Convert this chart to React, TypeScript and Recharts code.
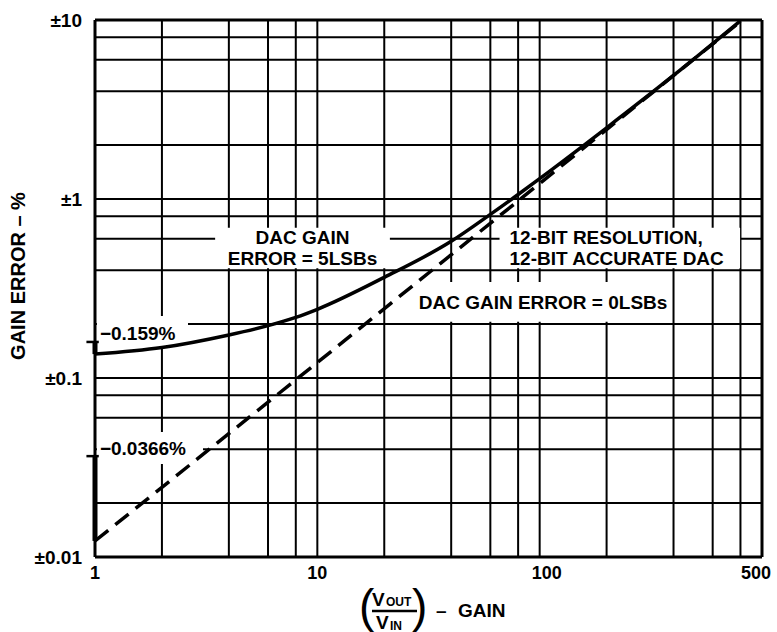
import React from 'react';
import { LineChart, Line, XAxis, YAxis, CartesianGrid, ReferenceLine, ReferenceArea } from 'recharts';

// grid values (log-log paper)
const gainTicks = [1, 2, 4, 6, 8, 10, 20, 40, 60, 80, 100, 200, 400, 600, 800, 1000];
const errorTicks = [0.01, 0.02, 0.04, 0.06, 0.08, 0.1, 0.2, 0.4, 0.6, 0.8, 1, 2, 4, 6, 8, 10];
const gainLabels: Record<string, string> = { '1': '1', '10': '10', '100': '100', '1000': '500' };
const errorLabels: Record<string, string> = { '0.01': '±0.01', '0.1': '±0.1', '1': '±1', '10': '±10' };

// DAC gain error = 5LSBs (solid)
const gain5 = [1, 2, 4, 6, 8, 10, 20, 40, 60, 80, 100, 200, 400, 800];
const error5 = [0.136, 0.148, 0.174, 0.196, 0.218, 0.242, 0.365, 0.58, 0.82, 1.06, 1.3, 2.5, 4.9, 9.9];

// DAC gain error = 0LSBs (dashed)
const gain0 = [1, 2, 10, 100, 800];
const error0 = [0.0123, 0.0245, 0.122, 1.22, 9.8];

// values marked on the left axis
const axisMarks = [0.159, 0.0366];

const solidData = gain5.map((g, i) => ({ g, v: error5[i] }));
const dashedData = gain0.map((g, i) => ({ g, v: error0[i] }));

const FONT = '"Liberation Sans", Arial, Helvetica, sans-serif';

const BoxText = ({ viewBox, lines, anchor = 'middle', dx = 0, dy = 0 }: any) => {
  const { x, y, width, height } = viewBox;
  const lh = 21;
  const tx = anchor === 'start' ? x + dx : x + width / 2 + dx;
  const y0 = y + height / 2 - ((lines.length - 1) * lh) / 2 + dy;
  return (
    <text fontFamily={FONT} fontWeight="bold" fontSize={19} fill="#000" textAnchor={anchor}>
      {lines.map((l: string, i: number) => (
        <tspan key={i} x={tx} y={y0 + i * lh} dy="0.36em">
          {l}
        </tspan>
      ))}
    </text>
  );
};

const GainTick = ({ x, y, payload }: any) => {
  const label = gainLabels[String(payload.value)];
  if (!label) return null;
  const dx = payload.value === 100 ? 7 : payload.value === 1000 ? -6 : 0;
  return (
    <text x={x + dx} y={y} dy={13} textAnchor="middle" fontFamily={FONT} fontWeight="bold" fontSize={18} fill="#000">
      {label}
    </text>
  );
};

const ErrorTick = ({ x, y, payload }: any) => {
  const label = errorLabels[String(payload.value)];
  if (!label) return null;
  return (
    <text x={x} y={y} dy="0.36em" textAnchor="end" fontFamily={FONT} fontWeight="bold" fontSize={19} fill="#000">
      {label}
    </text>
  );
};

const XTitle = () => (
  <g fontFamily={FONT} fill="#000">
    <text x={359} y={622} fontSize={46}>(</text>
    <text x={372} y={606} fontSize={19} fontWeight="bold">V</text>
    <text x={386} y={606} fontSize={12} fontWeight="bold">OUT</text>
    <line x1={372} x2={417} y1={611} y2={611} stroke="#000" strokeWidth={2.5} />
    <text x={376} y={629} fontSize={19} fontWeight="bold">V</text>
    <text x={390} y={630} fontSize={12} fontWeight="bold">IN</text>
    <text x={412} y={622} fontSize={46}>)</text>
    <text x={436} y={617} fontSize={19} fontWeight="bold">–</text>
    <text x={458} y={617} fontSize={19} fontWeight="bold">GAIN</text>
  </g>
);

const YTitle = () => (
  <text
    x={18}
    y={276}
    transform="rotate(-90, 18, 276)"
    textAnchor="middle"
    dy="0.36em"
    fontFamily={FONT}
    fontWeight="bold"
    fontSize={20}
    fill="#000"
  >
    GAIN ERROR – %
  </text>
);

export default function App() {
  return (
    <div style={{ position: 'absolute', left: 0, top: 0, background: '#fff' }}>
      <LineChart width={777} height={632} margin={{ top: 20, right: 15, bottom: 0, left: 0 }}>
        <CartesianGrid stroke="#000" strokeWidth={2} strokeOpacity={1} />
        <XAxis
          dataKey="g"
          type="number"
          scale="log"
          domain={[1, 1000]}
          ticks={gainTicks}
          interval={0}
          allowDataOverflow
          axisLine={false}
          tickLine={false}
          tickSize={0}
          tickMargin={9}
          height={75}
          tick={(p: any) => <GainTick {...p} />}
          label={<XTitle />}
        />
        <YAxis
          type="number"
          scale="log"
          domain={[0.01, 10]}
          ticks={errorTicks}
          interval={0}
          allowDataOverflow
          axisLine={false}
          tickLine={false}
          tickSize={0}
          tickMargin={13}
          width={95}
          tick={(p: any) => <ErrorTick {...p} />}
          label={<YTitle />}
        />

        {/* white label boxes that break the grid */}
        <ReferenceArea x1={3.47} x2={21.2} y1={0.41} y2={0.69} fill="#fff" fillOpacity={1} stroke="none"
          label={<BoxText lines={['DAC GAIN', 'ERROR = 5LSBs']} />} />
        <ReferenceArea x1={66} x2={797} y1={0.41} y2={0.69} fill="#fff" fillOpacity={1} stroke="none"
          label={<BoxText lines={['12-BIT RESOLUTION,', '12-BIT ACCURATE DAC']} anchor="start" dx={10} />} />
        <ReferenceArea x1={27.5} x2={390} y1={0.206} y2={0.344} fill="#fff" fillOpacity={1} stroke="none"
          label={<BoxText lines={['DAC GAIN ERROR = 0LSBs']} />} />
        <ReferenceArea x1={1.02} x2={2.62} y1={0.151} y2={0.222} fill="#fff" fillOpacity={1} stroke="none"
          label={<BoxText lines={['−0.159%']} anchor="start" dx={3} dy={2} />} />
        <ReferenceArea x1={1.02} x2={3.06} y1={0.0331} y2={0.0499} fill="#fff" fillOpacity={1} stroke="none"
          label={<BoxText lines={['−0.0366%']} anchor="start" dx={3} />} />

        {/* plot frame */}
        <ReferenceLine x={1} stroke="#000" strokeWidth={3} />
        <ReferenceLine x={1000} stroke="#000" strokeWidth={3} />
        <ReferenceLine y={0.01} stroke="#000" strokeWidth={3} />
        <ReferenceLine y={10} stroke="#000" strokeWidth={3} />

        {/* axis marks for -0.159% and -0.0366% */}
        {axisMarks.map((m) => (
          <ReferenceLine key={m} ifOverflow="visible" stroke="#000" strokeWidth={2.5}
            segment={[{ x: 0.915, y: m }, { x: 1.04, y: m }]} />
        ))}
        <ReferenceLine ifOverflow="visible" stroke="#000" strokeWidth={5}
          segment={[{ x: 1, y: error5[0] }, { x: 1, y: axisMarks[0] }]} />
        <ReferenceLine ifOverflow="visible" stroke="#000" strokeWidth={5}
          segment={[{ x: 1, y: error0[0] }, { x: 1, y: axisMarks[1] }]} />

        <Line data={solidData} dataKey="v" type="monotone" stroke="#000" strokeWidth={3.5}
          dot={false} activeDot={false} isAnimationActive={false} />
        <Line data={dashedData} dataKey="v" type="linear" stroke="#000" strokeWidth={3.5}
          strokeDasharray="17 9" dot={false} activeDot={false} isAnimationActive={false} />
      </LineChart>
    </div>
  );
}
